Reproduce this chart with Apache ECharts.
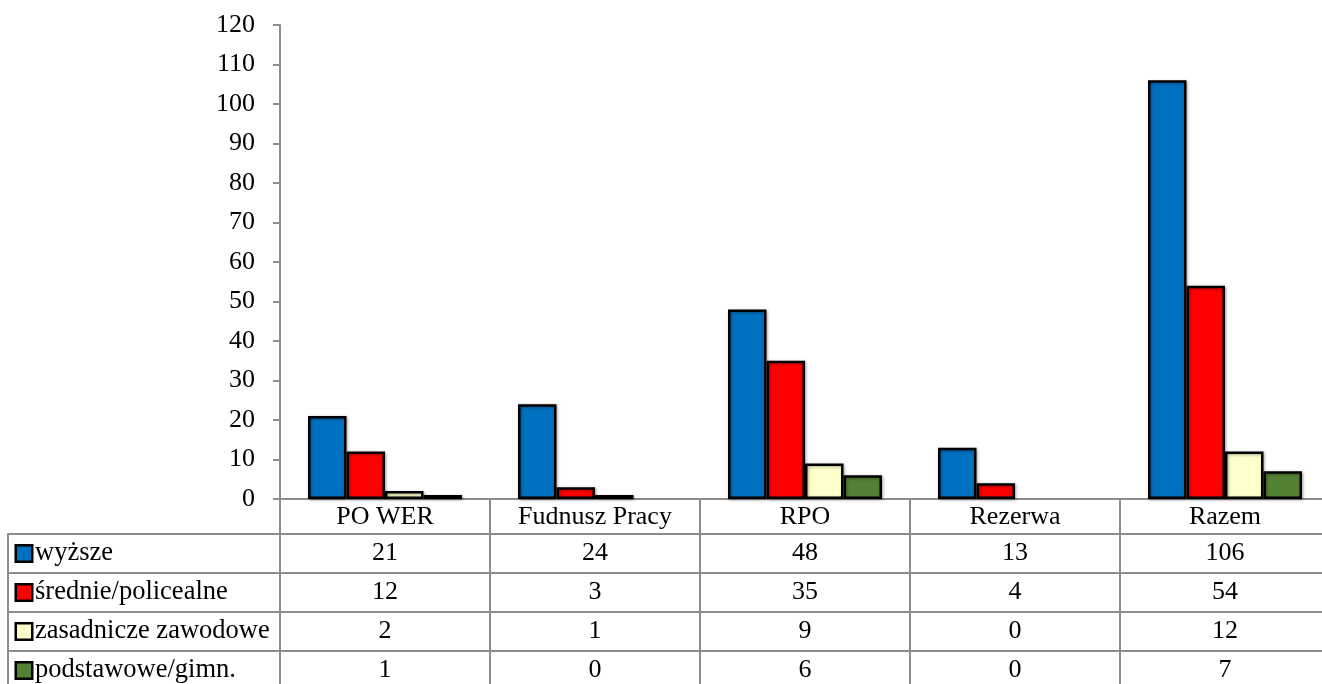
<!DOCTYPE html>
<html>
<head>
<meta charset="utf-8">
<script src="https://cdn.jsdelivr.net/npm/echarts@6/dist/echarts.min.js"></script>
<style>
html,body{margin:0;padding:0;background:#fff;}
#c{width:1322px;height:684px;}
</style>
</head>
<body>
<div id="c"></div>
<script>
const categories = ['PO WER', 'Fudnusz Pracy', 'RPO', 'Rezerwa', 'Razem'];
const seriesNames = ['wyższe', 'średnie/policealne', 'zasadnicze zawodowe', 'podstawowe/gimn.'];
const wyzsze = [21, 24, 48, 13, 106];
const srednie = [12, 3, 35, 4, 54];
const zasadnicze = [2, 1, 9, 0, 12];
const podstawowe = [1, 0, 6, 0, 7];
const yTicks = { min: 0, max: 120, interval: 10 };

const values = [wyzsze, srednie, zasadnicze, podstawowe];
const colors = ['#0070C0', '#FF0000', '#FFFFCC', '#548235'];
const gridColor = '#8c8c8c';
const FONT = "'Liberation Serif', 'Times New Roman', serif";
const FS = 26;

const barSeries = values.map((arr, i) => ({
  name: seriesNames[i],
  type: 'bar',
  xAxisIndex: 0,
  yAxisIndex: 0,
  barWidth: 38.5,
  barGap: '0%',
  data: arr.map(v => (v === 0 ? '-' : v)),
  itemStyle: {
    color: colors[i],
    borderColor: '#000',
    borderWidth: 2.5,
    shadowColor: 'rgba(0,0,0,0.35)',
    shadowBlur: 3,
    shadowOffsetX: 1,
    shadowOffsetY: 1
  },
  z: 3
}));

const tableData = [];
values.forEach((arr, r) => arr.forEach((v, c) => tableData.push([c, r, v])));

const rich = { t: { fontSize: 26.5, fontFamily: FONT, color: '#000', padding: [0, 0, 0, 4] } };
colors.forEach((col, i) => {
  rich['m' + i] = { width: 14, height: 14, backgroundColor: col, borderColor: '#000', borderWidth: 2.5 };
});

const option = {
  animation: false,
  backgroundColor: '#fff',
  textStyle: { fontFamily: FONT },
  grid: [
    { left: 280, top: 25, width: 1050, height: 474, outerBoundsMode: 'none', containLabel: false },
    { left: 280, top: 534, width: 1050, height: 156, outerBoundsMode: 'none', containLabel: false }
  ],
  xAxis: [
    {
      type: 'category', gridIndex: 0, data: categories,
      axisLine: { show: true, lineStyle: { color: gridColor, width: 2 } },
      axisTick: { show: true, length: 35, interval: 0, lineStyle: { color: gridColor, width: 2 } },
      axisLabel: { fontSize: FS, fontFamily: FONT, color: '#000', margin: 5, interval: 0 },
      splitLine: { show: false }
    },
    {
      type: 'category', gridIndex: 1, data: categories, position: 'top',
      axisLine: { show: true, lineStyle: { color: gridColor, width: 2 } },
      axisTick: { show: false },
      axisLabel: { show: false },
      splitLine: { show: true, interval: 0, lineStyle: { color: gridColor, width: 2 } }
    }
  ],
  yAxis: [
    {
      type: 'value', gridIndex: 0, min: yTicks.min, max: yTicks.max, interval: yTicks.interval,
      axisLine: { show: true, lineStyle: { color: gridColor, width: 2 } },
      axisTick: { show: true, length: 7, lineStyle: { color: gridColor, width: 2 } },
      axisLabel: { fontSize: FS, fontFamily: FONT, color: '#000', margin: 25 },
      splitLine: { show: false }
    },
    {
      type: 'category', gridIndex: 1, data: seriesNames, inverse: true,
      axisLine: { show: true, lineStyle: { color: gridColor, width: 2 } },
      axisTick: { show: true, length: 272, interval: 0, lineStyle: { color: gridColor, width: 2 } },
      axisLabel: {
        interval: 0, align: 'left', margin: 263,
        formatter: (v, i) => '{m' + i + '|}{t|' + v + '}',
        rich: rich
      },
      splitLine: { show: true, interval: 0, lineStyle: { color: gridColor, width: 2 } }
    },
    {
      type: 'category', gridIndex: 1, data: seriesNames, inverse: true, offset: 272, position: 'left',
      axisLine: { show: true, lineStyle: { color: gridColor, width: 2 } },
      axisTick: { show: false },
      axisLabel: { show: false },
      splitLine: { show: false }
    }
  ],
  series: barSeries.concat([
    {
      type: 'custom',
      xAxisIndex: 1,
      yAxisIndex: 1,
      data: tableData,
      renderItem: function (params, api) {
        const p = api.coord([api.value(0), api.value(1)]);
        return {
          type: 'text',
          x: p[0], y: p[1],
          style: {
            text: String(api.value(2)),
            fontSize: FS, fontFamily: FONT, fill: '#000',
            align: 'center', verticalAlign: 'middle'
          }
        };
      },
      z: 5
    }
  ])
};

const chart = echarts.init(document.getElementById('c'), null, { renderer: 'canvas' });
chart.setOption(option);
</script>
</body>
</html>
